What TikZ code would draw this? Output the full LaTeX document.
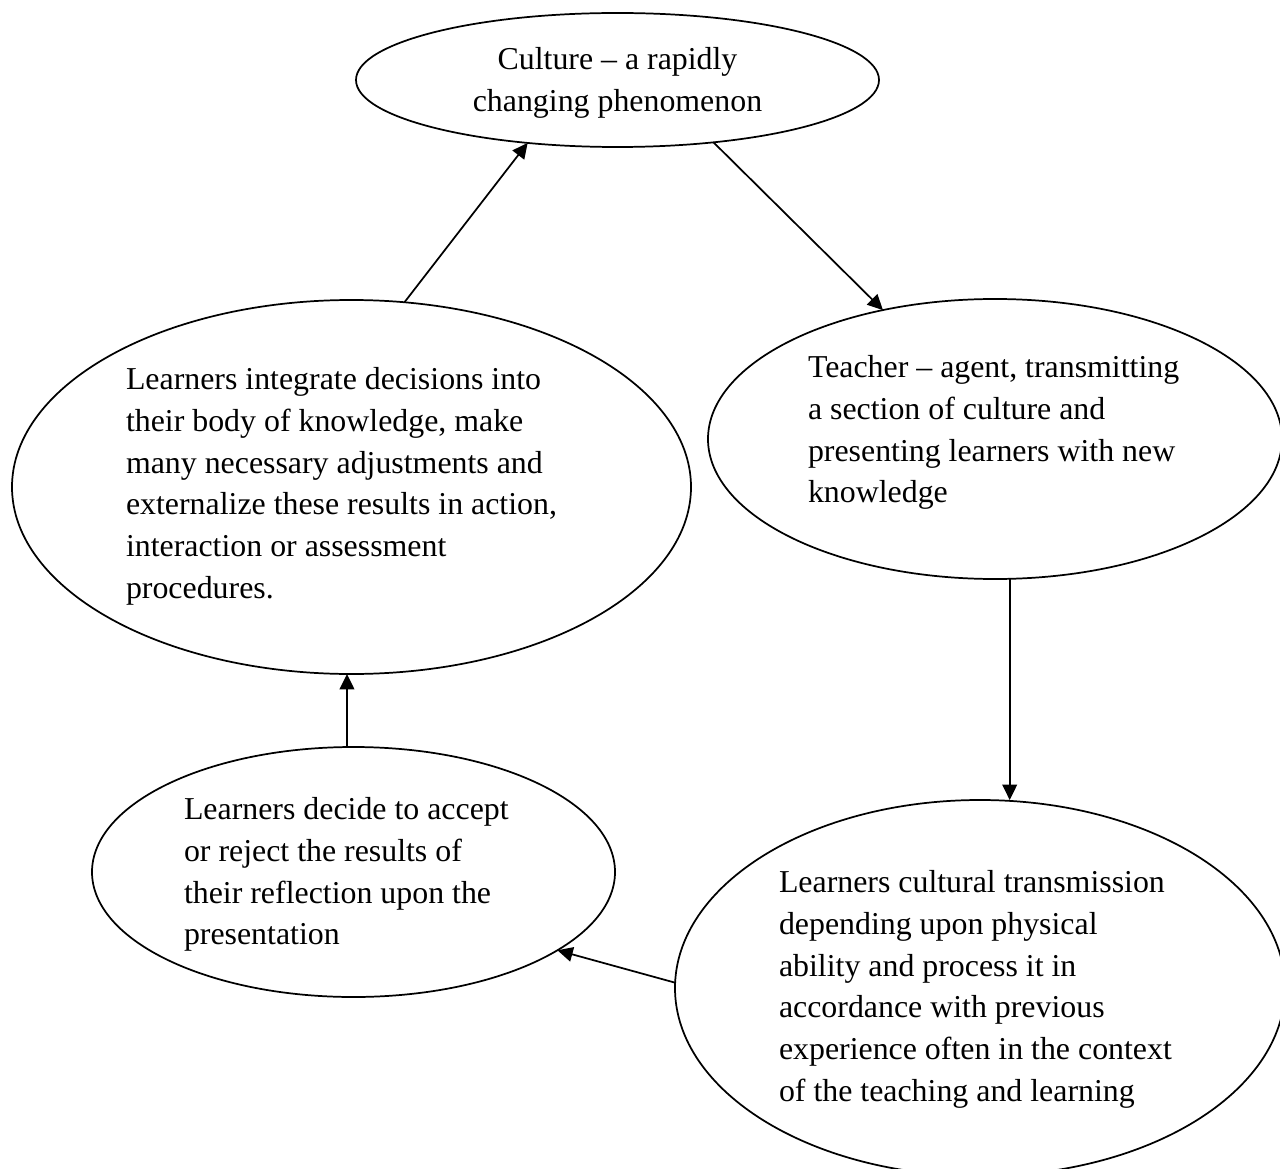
\documentclass[tikz,border=0pt]{standalone}
\usepackage{fontspec}
\setmainfont{Liberation Serif}
\usetikzlibrary{arrows.meta,shapes.geometric}
\tikzset{
  ell/.style={draw=black, line width=1.3pt, ellipse, inner sep=0pt, outer sep=0pt},
  txt/.style={inner sep=0pt, outer sep=0pt, font={\fontsize{23.9}{31.3}\selectfont}},
  arr/.style={draw=black, line width=1.3pt, -{Triangle[length=11.5pt,width=11pt]}}
}
\begin{document}
\begin{tikzpicture}[x=0.75pt,y=-0.75pt]
\useasboundingbox (0,0) rectangle (1280,1169);
% ellipses
\node[ell, minimum width=392.25pt, minimum height=100.5pt] (culture) at (617.5,80) {};
\node[ell, minimum width=430.5pt, minimum height=210pt] (teacher) at (995,439) {};
\node[ell, minimum width=509.25pt, minimum height=280.5pt] (lb) at (351.5,487) {};
\node[ell, minimum width=392.25pt, minimum height=187.5pt] (bl) at (353.5,872) {};
\node[ell, minimum width=457.5pt, minimum height=282pt] (br) at (980,988) {};
% texts
\node[txt, align=center, anchor=north] (tculture) at (617.5,47.5) {Culture – a rapidly\\changing phenomenon};
\node[txt, align=left, anchor=north west] (tteacher) at (808,355.5) {Teacher – agent, transmitting\\a section of culture and\\presenting learners with new\\knowledge};
\node[txt, align=left, anchor=north west] (tlb) at (126,367.5) {Learners integrate decisions into\\their body of knowledge, make\\many necessary adjustments and\\externalize these results in action,\\interaction or assessment\\procedures.};
\node[txt, align=left, anchor=north west] (tbl) at (184,797.5) {Learners decide to accept\\or reject the results of\\their reflection upon the\\presentation};
\node[txt, align=left, anchor=north west] (tbr) at (779,870.5) {Learners cultural transmission\\depending upon physical\\ability and process it in\\accordance with previous\\experience often in the context\\of the teaching and learning};
% connectors
\draw[arr] (culture.-33) -- (teacher.131.8);
\draw[arr] (teacher.-84.3) -- (teacher.-84.3 |- br.north);
\draw[arr] (br.179) -- (bl.-21.2);
\draw[arr] (bl.93.9) -- (bl.93.9 |- lb.south);
\draw[arr] (lb.74.8) -- (culture.-145.1);
\end{tikzpicture}
\end{document}
